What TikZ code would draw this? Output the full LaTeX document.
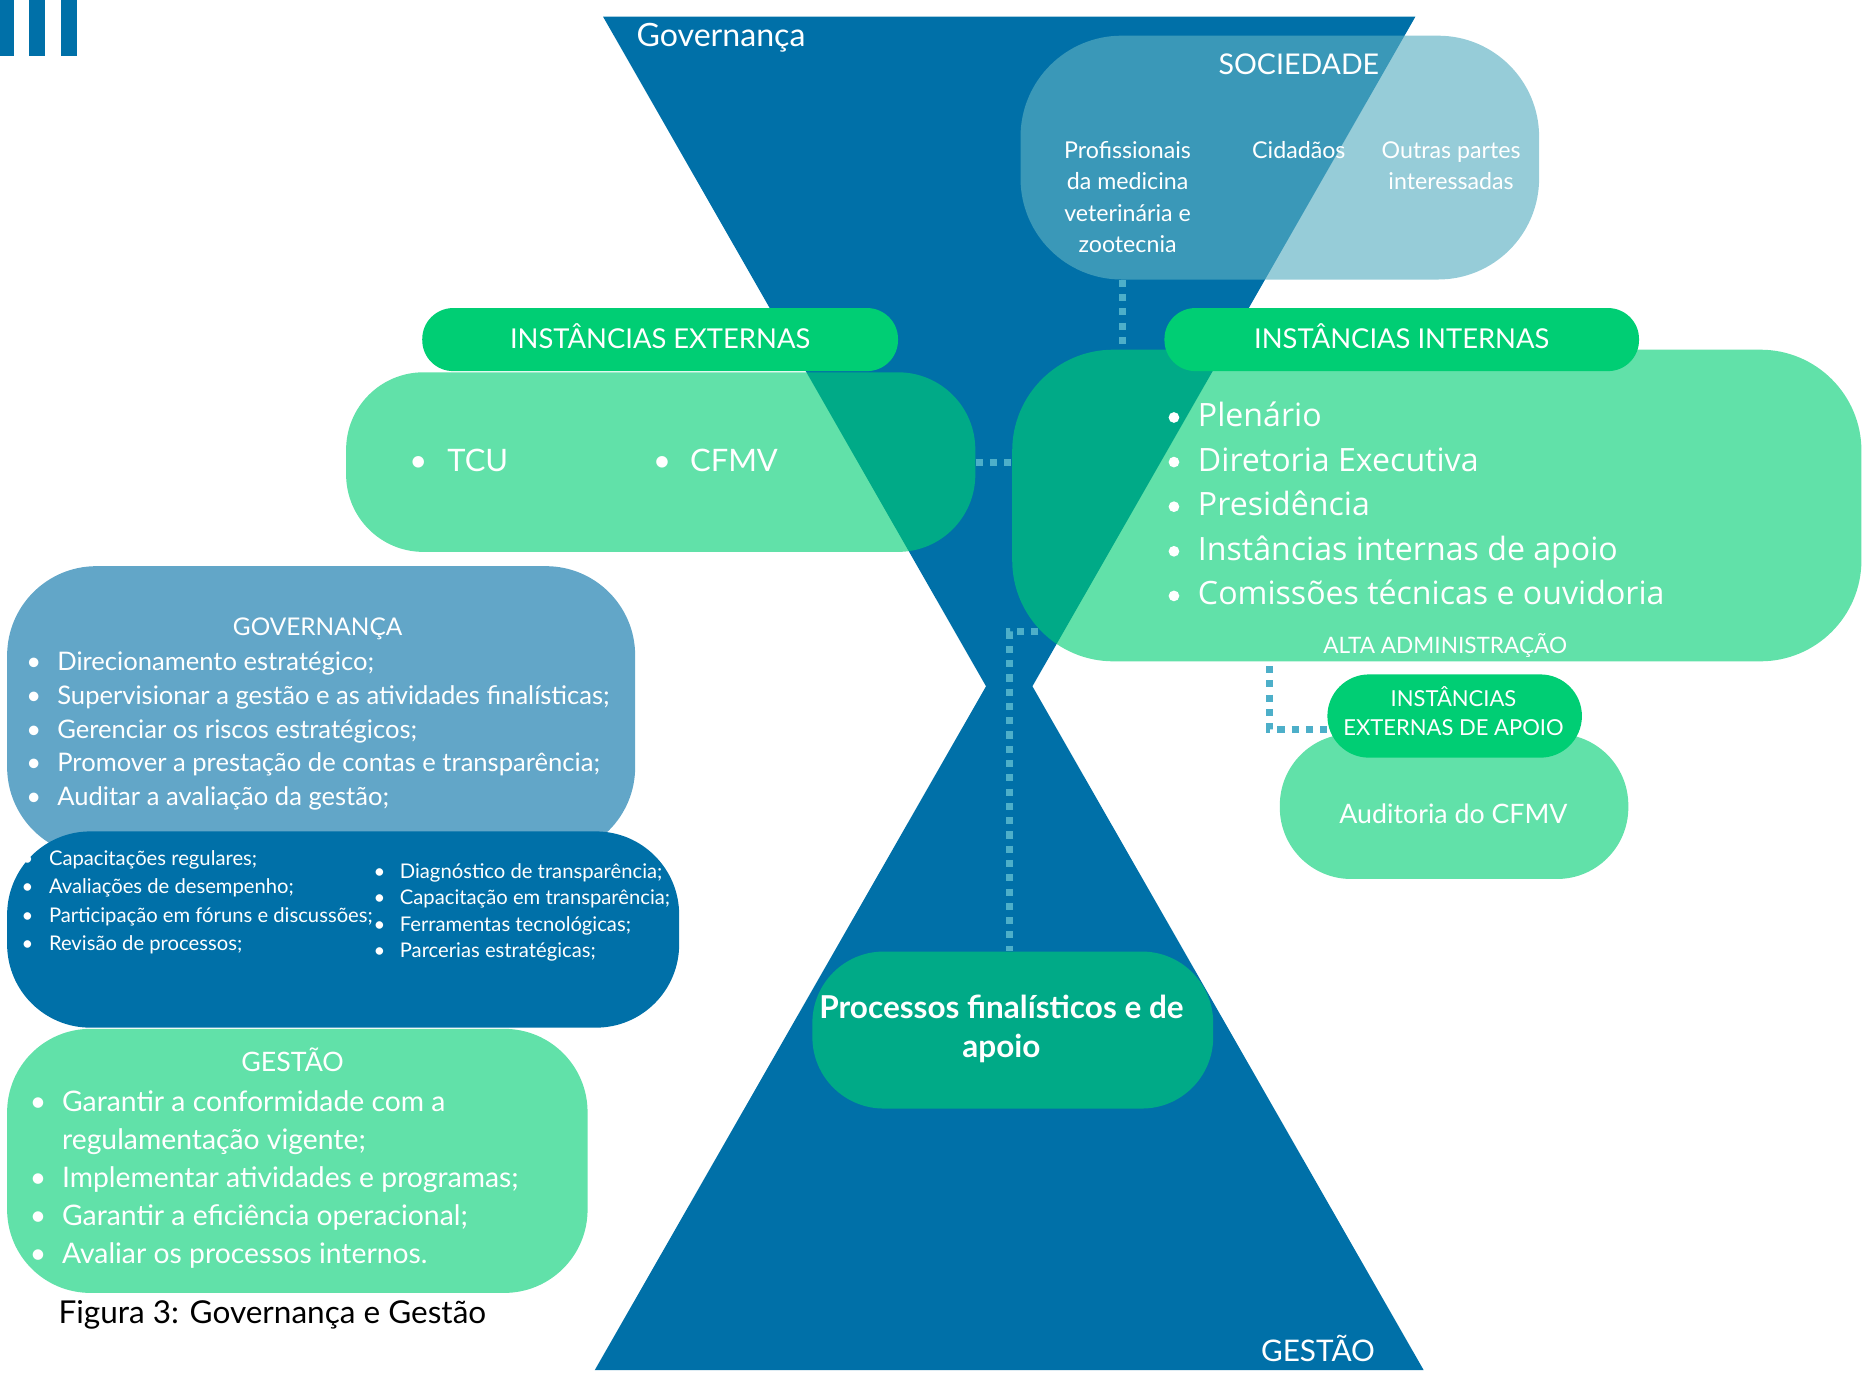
\documentclass[tikz,border=0pt]{standalone}
\usepackage{fontspec}
\setmainfont{Lato}
\newfontfamily\osans{Open Sans}
\usetikzlibrary{calc}
\definecolor{hblue}{HTML}{0070A8}
\definecolor{gbright}{HTML}{00CE74}
\definecolor{socb}{HTML}{5BAFC2}
\definecolor{govb}{HTML}{62A6C8}
\definecolor{dotc}{HTML}{4DAFC9}
\begin{document}
\begin{tikzpicture}[x=1pt,y=-1pt,
  wt/.style={text=white, inner sep=0pt, font=\fontsize{#1}{#1}\selectfont},
  box/.style={rectangle, draw=none, inner sep=0pt},
  tgreen/.style={fill=gbright, fill opacity=0.62},
  pill/.style={box, fill=gbright},
  dot/.style={circle, fill=white, draw=none, inner sep=0pt, minimum size=9},
  dotline/.style={draw=dotc, line width=6pt, dash pattern=on 6pt off 6pt}]
\useasboundingbox (0,0) rectangle (1568,1156);
% bars
\fill[hblue] (0,0) rectangle (12,47);
\fill[hblue] (24,0) rectangle (38,47);
\fill[hblue] (51,0) rectangle (65,47);
% hourglass
\fill[hblue] (507,14) -- (1190,14) -- (868,577) -- (1197,1152) -- (500,1152) -- (829,577) -- cycle;
\node[wt=27, anchor=base west] (hgov) at (535,39) {Governança};
\node[wt=25, anchor=base west] (hges) at (1060,1145) {GESTÃO};
% boxes
\node[box, fill=socb, fill opacity=0.64, rounded corners=85, minimum width=436, minimum height=205] (soc) at (1076,132.5) {};
\node[box, tgreen, rounded corners=65, minimum width=529, minimum height=151] (ext) at (555.5,388.5) {};
\node[box, tgreen, rounded corners=85, minimum width=714, minimum height=262] (int) at (1208,425) {};
\node[pill, rounded corners=26, minimum width=400, minimum height=53] (extH) at (555,285.5) {};
\node[pill, rounded corners=26, minimum width=399, minimum height=53] (intH) at (1178.5,285.5) {};
\node[box, fill=govb, rounded corners=75, minimum width=528, minimum height=244] (gov) at (270,598) {};
\node[box, fill=hblue, rounded corners=70, minimum width=565, minimum height=165] (dark) at (288.5,781.5) {};
\node[box, tgreen, rounded corners=70, minimum width=488, minimum height=222] (ges) at (250,976) {};
\node[box, tgreen, rounded corners=60, minimum width=337, minimum height=132] (proc) at (851.5,866) {};
\node[box, tgreen, rounded corners=60, minimum width=293, minimum height=122] (aud) at (1222.5,678) {};
\node[pill, rounded corners=35, minimum width=214, minimum height=70] (apH) at (1223,602) {};
% connectors
\coordinate (sx) at (944,0);
\draw[dotline] (soc.south -| sx) -- (int.north -| sx);
\draw[dotline] (ext.east) -- (int.west |- ext.east);
\coordinate (pStart) at (873,531);
\coordinate (pBend) at (849,531);
\draw[dotline] (pStart) -- (pBend) -- (pBend |- proc.north);
\coordinate (altaP) at (1067,560);
\draw[dotline] (altaP) |- ($(apH.west)+(0,11)$);
% society texts
\node[wt=24, anchor=base] (socT) at (1092,62.6) {SOCIEDADE};
\node[wt=19.5, anchor=base] (s1) at (948,133.5) {Profissionais};
\node[wt=19.5, anchor=base] (s2) at (948,159.5) {da medicina};
\node[wt=19.5, anchor=base] (s3) at (948,186.5) {veterinária e};
\node[wt=19.5, anchor=base] (s4) at (948,212.5) {zootecnia};
\node[wt=19.5, anchor=base] (s5) at (1092,133.5) {Cidadãos};
\node[wt=19.5, anchor=base] (s6) at (1220,133.5) {Outras partes};
\node[wt=19.5, anchor=base] (s7) at (1220,159.5) {interessadas};
% headers
\node[wt=23, anchor=base] (extT) at (555,293.3) {INSTÂNCIAS EXTERNAS};
\node[wt=23, anchor=base] (intT) at (1178.5,293.3) {INSTÂNCIAS INTERNAS};
% external list
\node[wt=26, anchor=base west] (eb1) at (344,396.4) {•};
\node[wt=26, anchor=base west] (e1) at (376,396.4) {TCU};
\node[wt=26, anchor=base west] (eb2) at (549,396.4) {•};
\node[wt=26, anchor=base west] (e2) at (580,396.4) {CFMV};
% internal list
\foreach \t [count=\i] in {Plenário, Diretoria Executiva, Presidência, Instâncias internas de apoio, Comissões técnicas e ouvidoria}{
  \node[dot] (ib\i) at (987,{351+37.5*(\i-1)}) {};
  \node[wt=27, font=\osans\fontsize{27}{27}\selectfont, anchor=base west] (il\i) at (1007,{358.6+37.5*(\i-1)}) {\t};
}
\node[wt=19, anchor=base] (alta) at (1215,549.8) {ALTA ADMINISTRAÇÃO};
% apoio
\node[wt=18.5, anchor=base] (ap1) at (1222,593.7) {INSTÂNCIAS};
\node[wt=18.5, anchor=base] (ap2) at (1222,618.7) {EXTERNAS DE APOIO};
\node[wt=22.5, anchor=base] (audT) at (1222,692) {Auditoria do CFMV};
% governanca
\node[wt=20.5, anchor=base] (govT) at (267,534.2) {GOVERNANÇA};
\foreach \t [count=\i] in {Direcionamento estratégico;, Supervisionar a gestão e as atividades finalísticas;, Gerenciar os riscos estratégicos;, Promover a prestação de contas e transparência;, Auditar a avaliação da gestão;}{
  \node[wt=21.5, anchor=base west] (gb\i) at (22,{563.5+28.5*(\i-1)}) {•};
  \node[wt=21.5, anchor=base west] (gl\i) at (48,{563.5+28.5*(\i-1)}) {\t};
}
% dark box
\foreach \t [count=\i] in {Capacitações regulares;, Avaliações de desempenho;, Participação em fóruns e discussões;, Revisão de processos;}{
  \node[wt=17, anchor=base west] (db\i) at (18,{727.8+23.7*(\i-1)}) {•};
  \node[wt=17, anchor=base west] (dl\i) at (41,{727.8+23.7*(\i-1)}) {\t};
}
\foreach \t [count=\i] in {Diagnóstico de transparência;, Capacitação em transparência;, Ferramentas tecnológicas;, Parcerias estratégicas;}{
  \node[wt=17, anchor=base west] (rb\i) at (314,{738.8+22*(\i-1)}) {•};
  \node[wt=17, anchor=base west] (rl\i) at (336,{738.8+22*(\i-1)}) {\t};
}
% gestao
\node[wt=22.5, anchor=base] (gesT) at (246,901) {GESTÃO};
\foreach \t [count=\i] in {Garantir a conformidade com a, regulamentação vigente;, Implementar atividades e programas;, Garantir a eficiência operacional;, Avaliar os processos internos.}{
  \node[wt=23.8, anchor=base west] (sl\i) at (52,{934.3+32*(\i-1)}) {\t};
}
\foreach \i in {1,3,4,5}{
  \node[wt=23.8, anchor=base west] (sb\i) at (25,{934.3+32*(\i-1)}) {•};
}
% processos
\node[wt=26.5, font=\fontsize{26.5}{26.5}\selectfont\bfseries, anchor=base] (p1) at (842,856.5) {Processos finalísticos e de};
\node[wt=26.5, font=\fontsize{26.5}{26.5}\selectfont\bfseries, anchor=base] (p2) at (842,889.5) {apoio};
% caption
\node[inner sep=0pt, font=\fontsize{26.5}{26.5}\selectfont, anchor=base west, text=black] (cap) at (49,1113) {Figura 3: Governança e Gestão};
\end{tikzpicture}
\end{document}
